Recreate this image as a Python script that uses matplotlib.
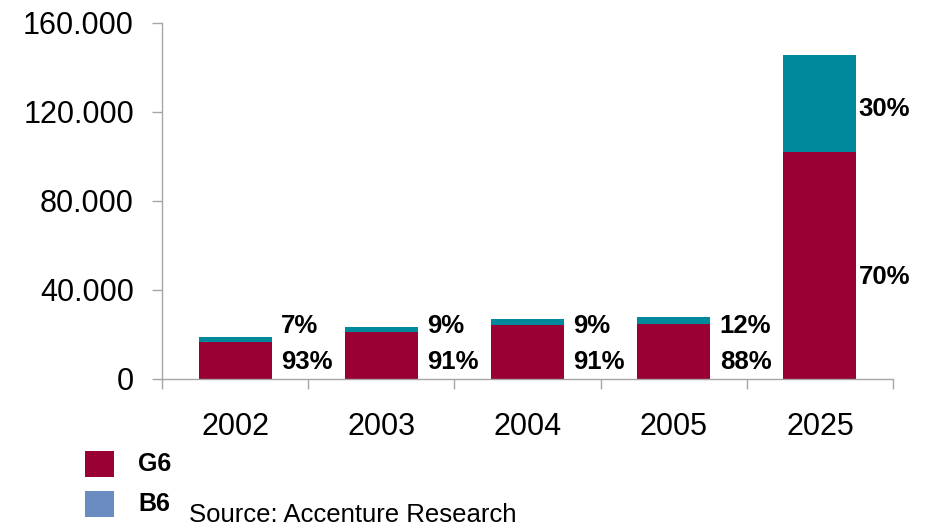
import matplotlib
matplotlib.use("Agg")
import matplotlib.pyplot as plt
from matplotlib.patches import Rectangle
from matplotlib.ticker import FuncFormatter, FixedLocator, NullFormatter

plt.rcParams['font.family'] = ['Liberation Sans', 'DejaVu Sans']

years = ["2002", "2003", "2004", "2005", "2025"]
g6 = [16400, 20900, 24000, 24500, 101800]
b6 = [2300, 2200, 2700, 3300, 44000]
g6_pct = ["93%", "91%", "91%", "88%", "70%"]
b6_pct = ["7%", "9%", "9%", "12%", "30%"]
series = ["G6", "B6"]

c_g6 = "#990033"
c_b6 = "#00899A"
c_b6_legend = "#6B8CC0"

W, H = 927, 528
fig = plt.figure(figsize=(W / 100, H / 100), dpi=100)
ax = fig.add_axes([162 / W, 1 - 378.5 / H, (893 - 162) / W, (378.5 - 23) / H])

x = list(range(len(years)))
ax.bar(x, g6, width=0.5, color=c_g6, zorder=2)
ax.bar(x, b6, width=0.5, bottom=g6, color=c_b6, zorder=2)

for i in x:
    tot = g6[i] + b6[i]
    if tot < 40000:
        yg, yb = 7500, 23500
        dx = 0.065
    else:
        yg = g6[i] / 2 - 5000
        yb = g6[i] + b6[i] / 2 - 2500
        dx = 0.015
    ax.text(i + 0.25 + dx, yg, g6_pct[i], ha="left", va="center",
            fontsize=18.5, fontweight="bold", color="black")
    ax.text(i + 0.25 + dx, yb, b6_pct[i], ha="left", va="center",
            fontsize=18.5, fontweight="bold", color="black")

ax.set_xlim(-0.5, len(years) - 0.5)
ax.set_ylim(0, 160000)
ax.yaxis.set_major_locator(FixedLocator([0, 40000, 80000, 120000, 160000]))
ax.yaxis.set_major_formatter(FuncFormatter(lambda v, p: "0" if v == 0 else f"{int(v):,}".replace(",", ".")))
ax.set_xticks(x)
ax.set_xticklabels(years)
ax.xaxis.set_minor_locator(FixedLocator([i - 0.5 for i in range(len(years) + 1)]))
ax.xaxis.set_minor_formatter(NullFormatter())

for s in ["top", "right"]:
    ax.spines[s].set_visible(False)
for s in ["left", "bottom"]:
    ax.spines[s].set_color("#A6A6A6")
    ax.spines[s].set_linewidth(1.0)

ax.tick_params(axis="y", which="major", direction="out", length=7.2, width=1.0,
               color="#A6A6A6", labelsize=22, pad=13)
ax.tick_params(axis="x", which="major", length=0, labelsize=22, pad=24)
ax.tick_params(axis="x", which="minor", direction="out", length=7.2, width=1.0, color="#A6A6A6")

# legend
fig.add_artist(Rectangle((85 / W, 1 - 477 / H), 29 / W, 26 / H, transform=fig.transFigure,
                         facecolor=c_g6, edgecolor="none"))
fig.add_artist(Rectangle((85 / W, 1 - 517 / H), 29 / W, 26 / H, transform=fig.transFigure,
                         facecolor=c_b6_legend, edgecolor="none"))
fig.text(138 / W, 1 - 464 / H, series[0], ha="left", va="center", fontsize=18, fontweight="bold")
fig.text(138 / W, 1 - 504 / H, series[1], ha="left", va="center", fontsize=18, fontweight="bold")
fig.text(189 / W, 1 - 515 / H, "Source: Accenture Research", ha="left", va="center", fontsize=18.5)

fig.savefig("out.png", dpi=100)
